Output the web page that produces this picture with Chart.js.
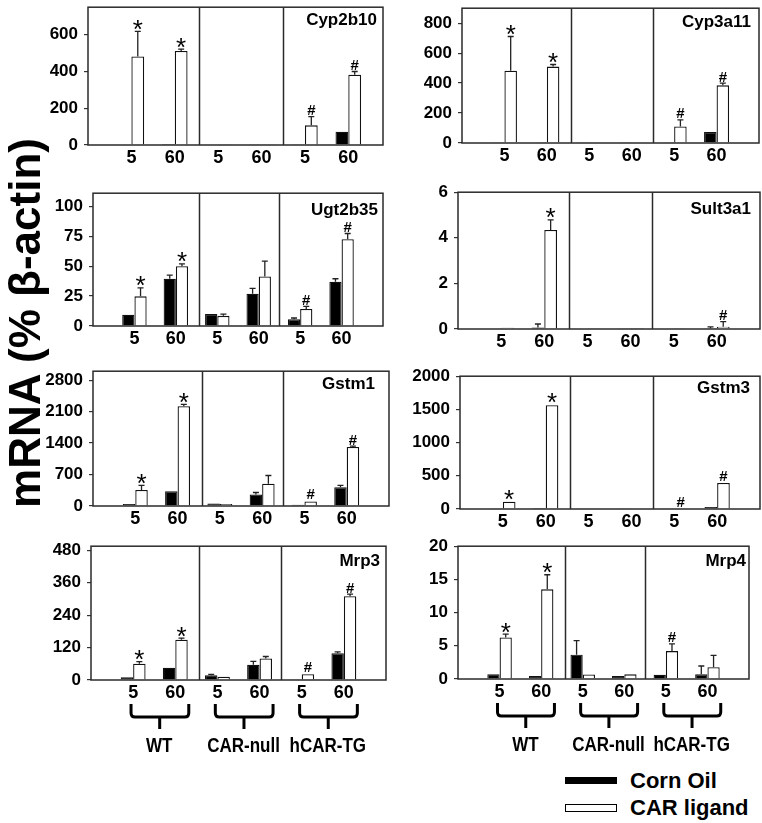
<!DOCTYPE html>
<html>
<head>
<meta charset="utf-8">
<script src="https://cdn.jsdelivr.net/npm/chart.js@4.4.0/dist/chart.umd.min.js"></script>
<style>
html,body{margin:0;padding:0;background:#fff;}
body{width:762px;height:823px;position:relative;overflow:hidden;font-family:"Liberation Sans",Arial,sans-serif;color:#000;}
canvas{position:absolute;}
.ytitle{position:absolute;left:-225px;top:298px;width:500px;height:50px;line-height:50px;text-align:center;font-weight:bold;font-size:44px;transform:rotate(-90deg);white-space:nowrap;z-index:5;}
.lbox{position:absolute;left:565px;width:52px;box-sizing:border-box;}
.ltext{position:absolute;left:630px;font-weight:bold;font-size:22px;line-height:22px;white-space:nowrap;}
</style>
</head>
<body>
<div class="ytitle">mRNA (% β-actin)</div>
<div class="lbox" style="top:777px;height:7px;background:#000;"></div>
<div class="ltext" style="top:770px;">Corn Oil</div>
<div class="lbox" style="top:804px;height:8px;background:#fff;border:1.5px solid #000;"></div>
<div class="ltext" style="top:797px;">CAR ligand</div>
<script>
// ---------- data ----------
const groupLabels = ['5', '60', '5', '60', '5', '60'];
const groupX = [1, 2, 3, 4, 5, 6];
const genotypeLabels = ['WT', 'CAR-null', 'hCAR-TG'];
const genotypeStart = [1, 3, 5];
const genotypeSeparators = [2.57, 4.5];
const seriesLabels = ['Corn Oil', 'CAR ligand'];

const cyp2b10CornOil = [3, 5, 3, 1, 1, 72];
const cyp2b10CornOilSem = [1, 1, 1, 0.5, 0.5, 3];
const cyp2b10Ligand = [482, 512, 2, 1, 107, 382];
const cyp2b10LigandSem = [136, 10, 0.5, 0.5, 47, 18];
const cyp2b10Marks = ['*', '*', '', '', '#', '#'];
const cyp2b10Ticks = [0, 200, 400, 600];

const cyp3a11CornOil = [2, 5, 2, 1, 1, 73];
const cyp3a11CornOilSem = [1, 1, 1, 0.5, 0.5, 3];
const cyp3a11Ligand = [482, 510, 1, 1, 110, 385];
const cyp3a11LigandSem = [229, 14, 0.5, 0.5, 45, 15];
const cyp3a11Marks = ['*', '*', '', '', '#', '#'];
const cyp3a11Ticks = [0, 200, 400, 600, 800];

const ugt2b35CornOil = [9.3, 39.5, 10, 27, 5.7, 37];
const ugt2b35CornOilSem = [0.5, 3, 0.5, 4.4, 1, 2.5];
const ugt2b35Ligand = [24.8, 50, 8.5, 41.4, 14.2, 72.5];
const ugt2b35LigandSem = [7, 2, 1.5, 12.8, 2.2, 4.8];
const ugt2b35Marks = ['*', '*', '', '', '#', '#'];
const ugt2b35Ticks = [0, 25, 50, 75, 100];

const sult3a1CornOil = [0.02, 0.07, 0.02, 0.03, 0.02, 0.03];
const sult3a1CornOilSem = [0.01, 0.15, 0.01, 0.01, 0.01, 0.06];
const sult3a1Ligand = [0.06, 4.34, 0.01, 0.04, 0.01, 0.1];
const sult3a1LigandSem = [0.02, 0.45, 0.01, 0.01, 0.01, 0.22];
const sult3a1Marks = ['', '*', '', '', '', '#'];
const sult3a1Ticks = [0, 2, 4, 6];

const gstm1CornOil = [44, 328, 58, 256, 30, 416];
const gstm1CornOilSem = [5, 10, 7, 44, 4, 44];
const gstm1Ligand = [357, 2220, 44, 497, 102, 1314];
const gstm1LigandSem = [103, 40, 5, 182, 10, 20];
const gstm1Marks = ['*', '*', '', '', '#', '#'];
const gstm1Ticks = [0, 700, 1400, 2100, 2800];

const gstm3CornOil = [3, 15, 5, 12, 3, 30];
const gstm3CornOilSem = [1, 3, 1, 2, 1, 5];
const gstm3Ligand = [111, 1564, 3, 12, 4, 392];
const gstm3LigandSem = [5, 12, 1, 2, 1, 8];
const gstm3Marks = ['*', '*', '', '', '#', '#'];
const gstm3Ticks = [0, 500, 1000, 1500, 2000];

const mrp3CornOil = [10, 45, 18, 56, 3, 99];
const mrp3CornOilSem = [1, 2, 3, 13, 0.5, 5];
const mrp3Ligand = [60, 149, 12, 80, 21, 310];
const mrp3LigandSem = [8, 6, 1, 7, 2, 8];
const mrp3Marks = ['*', '*', '', '', '#', '#'];
const mrp3Ticks = [0, 120, 240, 360, 480];

const mrp4CornOil = [0.73, 0.45, 3.67, 0.45, 0.65, 0.7];
const mrp4CornOilSem = [0.12, 0.1, 2.1, 0.05, 0.1, 1.26];
const mrp4Ligand = [6.26, 13.5, 0.68, 0.7, 4.2, 1.76];
const mrp4LigandSem = [0.5, 2.2, 0.07, 0.1, 1.1, 1.81];
const mrp4Marks = ['*', '*', '', '', '#', ''];
const mrp4Ticks = [0, 5, 10, 15, 20];

// ---------- layout (plot box: left, top, right, bottom in page px) ----------
const panels = [
  {gene:'Cyp2b10', oil:cyp2b10CornOil, oilSem:cyp2b10CornOilSem, lig:cyp2b10Ligand, ligSem:cyp2b10LigandSem, marks:cyp2b10Marks, ticks:cyp2b10Ticks, yMax:750, xMax:6.8, box:[88,3,383,145], inset:6, base:18, bottom:false},
  {gene:'Cyp3a11', oil:cyp3a11CornOil, oilSem:cyp3a11CornOilSem, lig:cyp3a11Ligand, ligSem:cyp3a11LigandSem, marks:cyp3a11Marks, ticks:cyp3a11Ticks, yMax:900, xMax:7, box:[462,4,759,143], inset:8, base:19, bottom:false},
  {gene:'Ugt2b35', oil:ugt2b35CornOil, oilSem:ugt2b35CornOilSem, lig:ugt2b35Ligand, ligSem:ugt2b35LigandSem, marks:ugt2b35Marks, ticks:ugt2b35Ticks, yMax:111, xMax:7, box:[93,189,383,326], inset:5, base:22, bottom:false},
  {gene:'Sult3a1', oil:sult3a1CornOil, oilSem:sult3a1CornOilSem, lig:sult3a1Ligand, ligSem:sult3a1LigandSem, marks:sult3a1Marks, ticks:sult3a1Ticks, yMax:6, xMax:7, box:[458,188,760,329], inset:9, base:22, bottom:false},
  {gene:'Gstm1', oil:gstm1CornOil, oilSem:gstm1CornOilSem, lig:gstm1Ligand, ligSem:gstm1LigandSem, marks:gstm1Marks, ticks:gstm1Ticks, yMax:3000, xMax:7, box:[93,367,389,506], inset:14, base:18, bottom:false},
  {gene:'Gstm3', oil:gstm3CornOil, oilSem:gstm3CornOilSem, lig:gstm3Ligand, ligSem:gstm3LigandSem, marks:gstm3Marks, ticks:gstm3Ticks, yMax:2000, xMax:7, box:[460,372,760,509], inset:10, base:17, bottom:false},
  {gene:'Mrp3', oil:mrp3CornOil, oilSem:mrp3CornOilSem, lig:mrp3Ligand, ligSem:mrp3LigandSem, marks:mrp3Marks, ticks:mrp3Ticks, yMax:495, xMax:7, box:[91,542,386,680], inset:6, base:20, bottom:true},
  {gene:'Mrp4', oil:mrp4CornOil, oilSem:mrp4CornOilSem, lig:mrp4Ligand, ligSem:mrp4LigandSem, marks:mrp4Marks, ticks:mrp4Ticks, yMax:20, xMax:7, box:[458,542,749,679], inset:3, base:20, bottom:true}
];

const FONT = '"Liberation Sans", Arial, sans-serif';
const YW = 60, PT = 12, PR = 8;
Chart.defaults.font.family = FONT;

function decor(p) {
  return {
    id: 'decor',
    afterDatasetsDraw(chart) {
      const ctx = chart.ctx, ca = chart.chartArea, xs = chart.scales.x, ys = chart.scales.y;
      ctx.save();
      // frame
      ctx.strokeStyle = '#2a2a2a';
      ctx.lineWidth = 1.5;
      ctx.strokeRect(ca.left, ca.top, ca.right - ca.left, ca.bottom - ca.top);
      // genotype separators
      genotypeSeparators.forEach(v => {
        const x = Math.round(xs.getPixelForValue(v)) + 0.5;
        ctx.beginPath(); ctx.moveTo(x, ca.top); ctx.lineTo(x, ca.bottom); ctx.stroke();
      });
      // error bars
      ctx.lineWidth = 1.3;
      ctx.strokeStyle = '#222';
      const sets = [[p.oil, p.oilSem], [p.lig, p.ligSem]];
      const tops = [];
      sets.forEach(([vals, sems], d) => {
        const meta = chart.getDatasetMeta(d);
        meta.data.forEach((el, i) => {
          const t = ys.getPixelForValue(vals[i] + sems[i]);
          if (d === 1) tops[i] = Math.min(t, el.y);
          if (el.y - t < 0.8) return;
          ctx.beginPath();
          ctx.moveTo(el.x, el.y); ctx.lineTo(el.x, t);
          ctx.moveTo(el.x - 3, t); ctx.lineTo(el.x + 3, t);
          ctx.stroke();
        });
      });
      // significance marks
      ctx.fillStyle = '#000';
      ctx.textAlign = 'center';
      ctx.textBaseline = 'alphabetic';
      const ligMeta = chart.getDatasetMeta(1);
      p.marks.forEach((m, i) => {
        if (!m) return;
        ctx.font = m === '*' ? '26px ' + FONT : 'bold 15px ' + FONT;
        const mt = ctx.measureText(m);
        const y = tops[i] - 1.5 - mt.actualBoundingBoxDescent;
        ctx.fillText(m, ligMeta.data[i].x, y);
      });
      // gene name
      ctx.font = 'bold 17px ' + FONT;
      ctx.textAlign = 'right';
      ctx.fillText(p.gene, ca.right - p.inset, ca.top + p.base);
      ctx.restore();
    },
    afterDraw(chart) {
      if (!p.bottom) return;
      const ctx = chart.ctx, ca = chart.chartArea, xs = chart.scales.x;
      ctx.save();
      ctx.strokeStyle = '#000';
      ctx.fillStyle = '#000';
      ctx.lineWidth = 3;
      const yTop = ca.bottom + 24, yH = ca.bottom + 37, yStem = ca.bottom + 49, yLab = ca.bottom + 66;
      genotypeStart.forEach((g, k) => {
        const x1 = xs.getPixelForValue(g - 0.05), x2 = xs.getPixelForValue(g + 1.32), xc = xs.getPixelForValue(g + 0.63);
        ctx.beginPath();
        ctx.moveTo(x1, yTop); ctx.lineTo(x1, yH - 4);
        ctx.quadraticCurveTo(x1, yH, x1 + 4, yH);
        ctx.lineTo(x2 - 4, yH);
        ctx.quadraticCurveTo(x2, yH, x2, yH - 4);
        ctx.lineTo(x2, yTop);
        ctx.moveTo(xc, yH); ctx.lineTo(xc, yStem);
        ctx.stroke();
        ctx.save();
        ctx.translate(xs.getPixelForValue(g + 0.62), yLab);
        ctx.scale(0.85, 1);
        ctx.font = 'bold 20px ' + FONT;
        ctx.textAlign = 'center';
        ctx.textBaseline = 'middle';
        ctx.fillText(genotypeLabels[k], 0, 0);
        ctx.restore();
      });
      ctx.restore();
    }
  };
}

panels.forEach(p => {
  const [L, T, R, B] = p.box;
  const XH = p.bottom ? 80 : 24;
  const cv = document.createElement('canvas');
  const w = R - L + YW + PR, h = B - T + PT + XH;
  cv.width = w; cv.height = h;
  cv.style.width = w + 'px'; cv.style.height = h + 'px';
  cv.style.left = (L - YW) + 'px'; cv.style.top = (T - PT) + 'px';
  document.body.appendChild(cv);
  new Chart(cv, {
    type: 'bar',
    data: {
      datasets: [
        {label: seriesLabels[0], data: groupX.map((x, i) => ({x: x, y: p.oil[i]})), backgroundColor: '#000', borderColor: '#111', borderWidth: 1.2, categoryPercentage: 0.59, barPercentage: 1},
        {label: seriesLabels[1], data: groupX.map((x, i) => ({x: x, y: p.lig[i]})), backgroundColor: '#fff', borderColor: '#111', borderWidth: 1.3, categoryPercentage: 0.59, barPercentage: 1}
      ]
    },
    options: {
      responsive: false,
      animation: false,
      devicePixelRatio: 1,
      layout: {padding: {top: PT, right: PR, left: 0, bottom: 0}},
      plugins: {legend: {display: false}, tooltip: {enabled: false}},
      scales: {
        x: {
          type: 'linear', min: 0, max: p.xMax, offset: false,
          grid: {display: false, drawTicks: false},
          border: {display: false},
          afterBuildTicks: s => { s.ticks = groupX.map(v => ({value: v})); },
          afterFit: s => { s.height = XH; },
          ticks: {autoSkip: false, maxRotation: 0, minRotation: 0, padding: 2, color: '#000',
                  font: {family: FONT, size: 18, weight: 'bold'},
                  callback: (v, i) => groupLabels[i]}
        },
        y: {
          min: 0, max: p.yMax,
          grid: {display: true, drawOnChartArea: false, drawTicks: true, tickLength: 4, color: '#333', lineWidth: 1.2},
          border: {display: false},
          afterBuildTicks: s => { s.ticks = p.ticks.map(v => ({value: v})); },
          afterFit: s => { s.width = YW; },
          ticks: {padding: 6, color: '#000', font: {family: FONT, size: 17, weight: 'bold'},
                  callback: v => String(v)}
        }
      }
    },
    plugins: [decor(p)]
  });
});
</script>
</body>
</html>
